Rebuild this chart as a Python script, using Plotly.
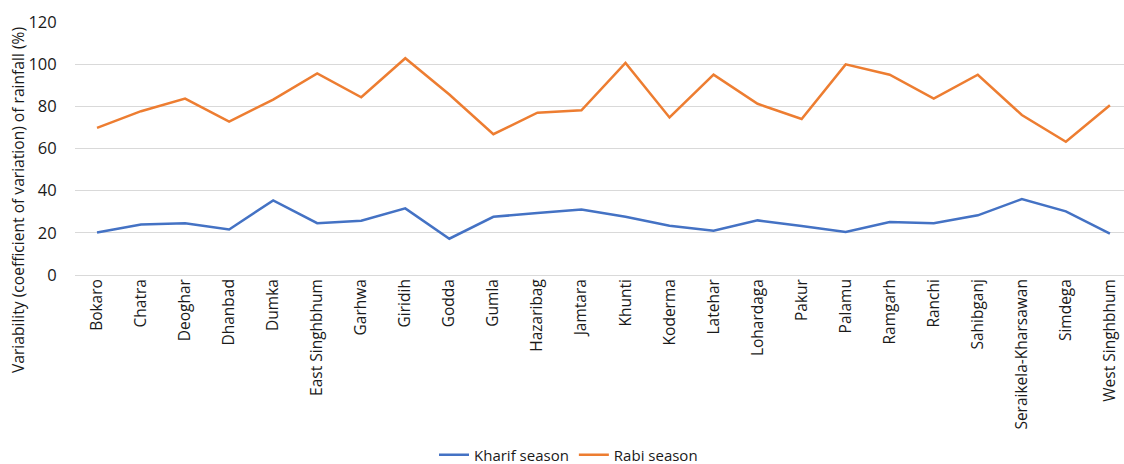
import plotly.graph_objects as go

districts = [
    "Bokaro", "Chatra", "Deoghar", "Dhanbad", "Dumka", "East Singhbhum",
    "Garhwa", "Giridih", "Godda", "Gumla", "Hazaribag", "Jamtara", "Khunti",
    "Koderma", "Latehar", "Lohardaga", "Pakur", "Palamu", "Ramgarh", "Ranchi",
    "Sahibganj", "Seraikela-Kharsawan", "Simdega", "West Singhbhum",
]
kharif_cv = [
    20.2, 23.9, 24.6, 21.6, 35.4, 24.6, 25.7, 31.6, 17.2, 27.6, 29.4, 31.1,
    27.6, 23.4, 21.0, 25.9, 23.2, 20.4, 25.1, 24.6, 28.3, 36.0, 30.2, 19.6,
]
rabi_cv = [
    69.8, 77.7, 83.7, 72.8, 83.2, 95.6, 84.3, 102.8, 85.6, 66.8, 77.0, 78.1,
    100.6, 74.7, 95.0, 81.2, 74.0, 99.9, 95.0, 83.7, 95.0, 75.9, 63.2, 80.5,
]
y_ticks = [0, 20, 40, 60, 80, 100, 120]

W, H = 1124, 464
ML, MR, MT, MB = 75, 0, 22, 189
FONT = "Open Sans"
INK = "#1a1a1a"

fig = go.Figure()
fig.add_trace(go.Scatter(
    x=districts, y=kharif_cv, mode="lines", name="Kharif season",
    line=dict(color="#4472C4", width=2.5),
))
fig.add_trace(go.Scatter(
    x=districts, y=rabi_cv, mode="lines", name="Rabi season",
    line=dict(color="#ED7D31", width=2.5),
))

fig.update_layout(
    width=W, height=H,
    margin=dict(l=ML, r=MR, t=MT, b=MB, pad=0),
    paper_bgcolor="white", plot_bgcolor="white",
    font=dict(family=FONT, size=15, color=INK),
    showlegend=True,
    legend=dict(
        orientation="h", xref="container", yref="container",
        x=434 / W, xanchor="left", y=1 - 455 / H, yanchor="middle",
        font=dict(family=FONT, size=15, color=INK),
        itemwidth=30, tracegroupgap=0,
    ),
    xaxis=dict(
        type="category", range=[-0.5, 23.32],
        tickangle=-90, showgrid=False, zeroline=False, showline=False,
        ticks="", tickfont=dict(family=FONT, size=15.5, color=INK),
    ),
    yaxis=dict(
        range=[0, 120], tickvals=y_ticks, ticktext=[str(v) for v in y_ticks],
        showgrid=True, gridcolor="#D9D9D9", gridwidth=1,
        zeroline=True, zerolinecolor="#D9D9D9", zerolinewidth=1,
        showline=False, ticks="outside", ticklen=14, tickcolor="rgba(0,0,0,0)",
        tickfont=dict(family=FONT, size=16.5, color=INK),
    ),
    annotations=[dict(
        text="Variability (coefficient of variation) of rainfall (%)",
        xref="paper", yref="paper",
        x=-(ML - 18) / (W - ML - MR), xanchor="center",
        y=(H - MB - 200) / (H - MT - MB), yanchor="middle",
        textangle=-90, showarrow=False,
        font=dict(family=FONT, size=15.6, color=INK),
    )],
)

fig.write_html("out.html")
